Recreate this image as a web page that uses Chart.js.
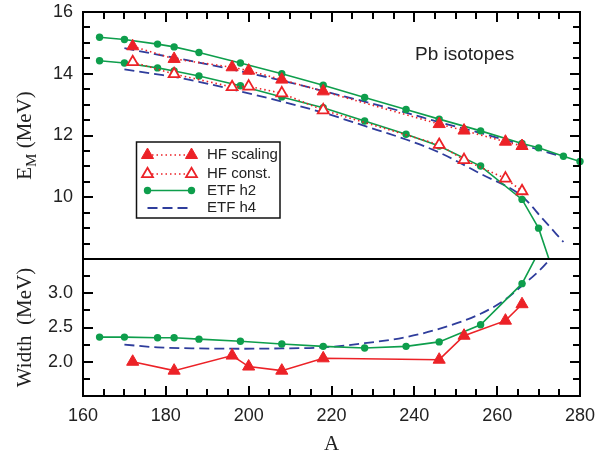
<!DOCTYPE html>
<html>
<head>
<meta charset="utf-8">
<script src="https://cdn.jsdelivr.net/npm/chart.js@4.4.1/dist/chart.umd.min.js"></script>
<style>
  html, body { margin:0; padding:0; background:#fff; }
  #wrap { width:599px; height:455px; }
</style>
</head>
<body>
<div id="wrap"><canvas id="chart" width="599" height="455"></canvas></div>
<script>
// ======== DATA =========
// ETF h2 (upper / lower energy branch)
const massH2Upper = [164,170,178,182,188,198,208,218,228,238,246,256,266,270,276,280];
const emH2Upper   = [15.18,15.11,14.96,14.87,14.69,14.35,14.0,13.63,13.23,12.84,12.53,12.15,11.74,11.6,11.33,11.16];
const massH2Lower = [164,170,178,182,188,198,208,218,228,238,246,256,266,270,274];
const emH2Lower   = [14.42,14.35,14.19,14.09,13.93,13.61,13.25,12.9,12.47,12.04,11.66,11.01,9.93,9.0,7.4];

// ETF h4
const massH4Upper = [170,178,182,188,198,208,218,228,238,246,256,266,276];
const emH4Upper   = [14.83,14.62,14.52,14.36,14.08,13.78,13.44,13.1,12.74,12.43,12.08,11.7,11.3];
const massH4Lower = [170,178,182,188,198,208,218,228,238,246,256,266,271,276];
const emH4Lower   = [14.14,13.98,13.9,13.74,13.43,13.1,12.74,12.31,11.87,11.45,10.76,10.03,9.3,8.55];

// HF
const massHF      = [172,182,196,200,208,218,246,252,262,266];
const emHFScaling = [14.89,14.48,14.21,14.1,13.81,13.43,12.37,12.16,11.8,11.66];
const emHFConst   = [14.38,13.99,13.57,13.59,13.37,12.82,11.7,11.21,10.61,10.2];
const widthHF     = [2.0,1.87,2.09,1.93,1.87,2.05,2.03,2.38,2.6,2.84];

// widths
const massWidthH2 = [164,170,178,182,188,198,208,218,228,238,246,256,266,270];
const widthH2     = [2.36,2.36,2.35,2.35,2.33,2.30,2.26,2.225,2.20,2.225,2.29,2.54,3.14,3.6];
const massWidthH4 = [170,178,188,198,208,218,228,238,246,256,262,266,270,274];
const widthH4     = [2.25,2.21,2.195,2.19,2.195,2.21,2.27,2.36,2.48,2.70,2.91,3.11,3.32,3.58];

// tick labels and tick marks
const xTicks     = [160,180,200,220,240,260,280];
const emTicks    = [10,12,14,16];
const widthTicks = [2.0,2.5,3.0];
const xMinor     = [165,170,175,185,190,195,205,210,215,225,230,235,245,250,255,265,270,275];
const emMinor    = [8.5,9,9.5,10.5,11,11.5,12.5,13,13.5,14.5,15,15.5];
const emMajor    = [10,12,14];
const widthMinor = [1.75,2.25,2.75,3.25];

// ======== STYLE =========
const RED = '#ec2227', GREEN = '#0e9e4c', BLUE = '#2f3d9c';
const SANS = '"Liberation Sans", Arial, sans-serif';
const SERIF = '"Liberation Serif", "Times New Roman", serif';

const pts = (xs, ys) => xs.map((x, i) => ({ x, y: ys[i] }));

function h2Set(xs, ys, axis) {
  return { data: pts(xs, ys), yAxisID: axis, borderColor: GREEN, borderWidth: 1.6,
    pointRadius: 3.7, pointBackgroundColor: GREEN, pointBorderWidth: 0, tension: 0, clip: false };
}
function h4Set(xs, ys, axis) {
  return { data: pts(xs, ys), yAxisID: axis, borderColor: BLUE, borderWidth: 1.8,
    borderDash: [10, 5], pointRadius: 0, cubicInterpolationMode: 'monotone', clip: false };
}
function hfSet(ys, axis, filled, dotted) {
  return { data: pts(massHF, ys), yAxisID: axis, borderColor: RED, borderWidth: 1.6,
    borderDash: dotted ? [1.5, 3] : [], pointStyle: 'triangle', pointRadius: filled ? 7 : 6.3,
    pointBackgroundColor: filled ? RED : '#fff', pointBorderColor: RED,
    pointBorderWidth: filled ? 1 : 1.8, tension: 0, clip: false };
}

// ======== PLUGINS =========
// keep each dataset inside its own panel
const panelClip = {
  id: 'panelClip',
  beforeDatasetDraw(chart, args) {
    const { ctx, chartArea } = chart;
    const ys = args.meta.yScale;
    ctx.save();
    ctx.beginPath();
    ctx.rect(chartArea.left - 12, ys.top, chartArea.right - chartArea.left + 24, ys.bottom - ys.top);
    ctx.clip();
  },
  afterDatasetDraw(chart) { chart.ctx.restore(); }
};

// box around both panels, divider, inward tick marks on all sides
const framePlugin = {
  id: 'framePlugin',
  afterDraw(chart) {
    const { ctx, chartArea: a, scales } = chart;
    ctx.save();
    ctx.fillStyle = '#000';
    const top = Math.round(a.top), bottom = Math.round(a.bottom);
    const left = Math.round(a.left), right = Math.round(a.right);
    const xMark = (v, len) => {
      const px = Math.round(scales.x.getPixelForValue(v)) - 1;
      ctx.fillRect(px, top, 2, len);
      ctx.fillRect(px, bottom - len, 2, len);
    };
    const yMark = (scale, v, len) => {
      const py = Math.round(scale.getPixelForValue(v)) - 1;
      ctx.fillRect(left, py, len, 2);
      ctx.fillRect(right - len, py, len, 2);
    };
    xTicks.forEach(v => xMark(v, 10));
    xMinor.forEach(v => xMark(v, 7));
    emMajor.forEach(v => yMark(scales.yE, v, 10));
    emMinor.forEach(v => yMark(scales.yE, v, 7));
    widthTicks.forEach(v => yMark(scales.yW, v, 10));
    widthMinor.forEach(v => yMark(scales.yW, v, 7));

    ctx.strokeStyle = '#000';
    ctx.lineWidth = 2;
    ctx.strokeRect(left, top, right - left, bottom - top);
    const mid = Math.round(scales.yE.bottom);
    ctx.fillRect(left, mid - 1, right - left, 2);
    ctx.restore();
  }
};

function triangle(ctx, cx, cy, r, filled) {
  const s = Math.sin(Math.PI * 2 / 3) * r;
  ctx.beginPath();
  ctx.moveTo(cx, cy - r);
  ctx.lineTo(cx + s, cy + r / 2);
  ctx.lineTo(cx - s, cy + r / 2);
  ctx.closePath();
  ctx.fillStyle = filled ? RED : '#fff';
  ctx.fill();
  ctx.strokeStyle = RED;
  ctx.lineWidth = filled ? 1 : 1.8;
  ctx.stroke();
}

// legend box, axis titles and the panel label
const annotations = {
  id: 'annotations',
  afterDraw(chart) {
    const ctx = chart.ctx;
    ctx.save();

    // legend
    const x0 = 147.5, x1 = 191.5, tx = 207;
    ctx.lineWidth = 1.5;
    ctx.strokeStyle = '#111';
    ctx.strokeRect(136.5, 142, 143.5, 76);
    ctx.font = '15px ' + SANS;
    ctx.fillStyle = '#222';
    ctx.textBaseline = 'middle';
    const rows = [
      { y: 155, label: 'HF scaling' },
      { y: 174, label: 'HF const.' },
      { y: 190.5, label: 'ETF h2' },
      { y: 208, label: 'ETF h4' }
    ];
    rows.forEach((r, i) => {
      ctx.save();
      if (i < 2) {
        ctx.strokeStyle = RED; ctx.lineWidth = 1.6; ctx.setLineDash([1.5, 3]);
        ctx.beginPath(); ctx.moveTo(x0, r.y); ctx.lineTo(x1, r.y); ctx.stroke();
        ctx.setLineDash([]);
        triangle(ctx, x0, r.y, i === 0 ? 7 : 6.3, i === 0);
        triangle(ctx, x1, r.y, i === 0 ? 7 : 6.3, i === 0);
      } else if (i === 2) {
        ctx.strokeStyle = GREEN; ctx.lineWidth = 1.6;
        ctx.beginPath(); ctx.moveTo(x0, r.y); ctx.lineTo(x1, r.y); ctx.stroke();
        ctx.fillStyle = GREEN;
        [x0, x1].forEach(px => { ctx.beginPath(); ctx.arc(px, r.y, 3.7, 0, Math.PI * 2); ctx.fill(); });
      } else {
        ctx.strokeStyle = BLUE; ctx.lineWidth = 1.8; ctx.setLineDash([10, 5]);
        ctx.beginPath(); ctx.moveTo(x0, r.y); ctx.lineTo(x1, r.y); ctx.stroke();
      }
      ctx.restore();
      ctx.fillText(r.label, tx, r.y);
    });

    // panel label
    ctx.font = '19px ' + SANS;
    ctx.textBaseline = 'alphabetic';
    ctx.fillText('Pb isotopes', 415, 60);

    // x title
    ctx.font = '21px ' + SERIF;
    ctx.textAlign = 'center';
    ctx.fillText('A', (chart.chartArea.left + chart.chartArea.right) / 2, 450);

    // y titles (rotated)
    const yE = chart.scales.yE, yW = chart.scales.yW;
    ctx.textAlign = 'left';
    ctx.save();
    ctx.translate(31, (yE.top + yE.bottom) / 2);
    ctx.rotate(-Math.PI / 2);
    const big = '21px ' + SERIF, small = '15px ' + SERIF;
    ctx.font = big; const wE = ctx.measureText('E').width;
    const wRest = ctx.measureText(' (MeV)').width;
    ctx.font = small; const wM = ctx.measureText('M').width;
    let cx = -(wE + wM + wRest) / 2;
    ctx.font = big; ctx.fillText('E', cx, 0); cx += wE;
    ctx.font = small; ctx.fillText('M', cx, 5); cx += wM;
    ctx.font = big; ctx.fillText(' (MeV)', cx, 0);
    ctx.restore();

    ctx.save();
    ctx.translate(31, (yW.top + yW.bottom) / 2);
    ctx.rotate(-Math.PI / 2);
    ctx.font = big;
    ctx.textAlign = 'center';
    ctx.fillText('Width  (MeV)', 0, 0);
    ctx.restore();

    ctx.restore();
  }
};

// ======== CHART =========
const tickFont = { family: SANS, size: 18 };
const noGrid = { display: false, drawTicks: false };
const noPadY = s => { s.width = 83; s.paddingTop = 0; s.paddingBottom = 0; };

new Chart(document.getElementById('chart'), {
  type: 'line',
  data: {
    datasets: [
      hfSet(emHFScaling, 'yE', true, true),
      hfSet(emHFConst, 'yE', false, true),
      hfSet(widthHF, 'yW', true, false),
      h2Set(massH2Upper, emH2Upper, 'yE'),
      h2Set(massH2Lower, emH2Lower, 'yE'),
      h2Set(massWidthH2, widthH2, 'yW'),
      h4Set(massH4Upper, emH4Upper, 'yE'),
      h4Set(massH4Lower, emH4Lower, 'yE'),
      h4Set(massWidthH4, widthH4, 'yW')
    ]
  },
  options: {
    responsive: false,
    animation: false,
    events: [],
    layout: { padding: { top: 12, right: 19, left: 0, bottom: 0 } },
    plugins: { legend: { display: false }, tooltip: { enabled: false } },
    scales: {
      x: {
        type: 'linear', position: 'bottom', min: 160, max: 280,
        grid: noGrid, border: { display: false },
        ticks: { font: tickFont, color: '#222', padding: 9, maxRotation: 0 },
        afterBuildTicks: s => { s.ticks = xTicks.map(v => ({ value: v })); },
        afterFit: s => { s.height = 59; s.paddingLeft = 0; s.paddingRight = 0; }
      },
      yW: {
        type: 'linear', position: 'left', stack: 'panels', stackWeight: 137,
        min: 1.5, max: 3.5,
        grid: noGrid, border: { display: false },
        ticks: { font: tickFont, color: '#222', padding: 10, callback: v => Number(v).toFixed(1) },
        afterBuildTicks: s => { s.ticks = widthTicks.map(v => ({ value: v })); },
        afterFit: noPadY
      },
      yE: {
        type: 'linear', position: 'left', stack: 'panels', stackWeight: 247,
        min: 8, max: 16,
        grid: noGrid, border: { display: false },
        ticks: { font: tickFont, color: '#222', padding: 10 },
        afterBuildTicks: s => { s.ticks = emTicks.map(v => ({ value: v })); },
        afterFit: noPadY
      }
    }
  },
  plugins: [panelClip, framePlugin, annotations]
});
</script>
</body>
</html>
